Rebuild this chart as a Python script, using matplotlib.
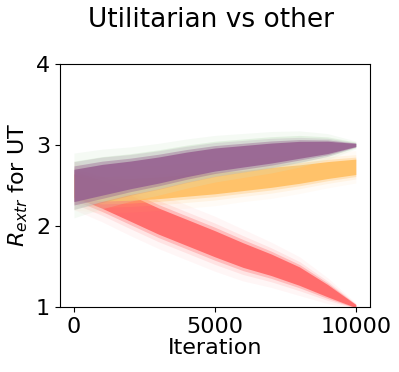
"""Utilitarian vs other: R_extr の推移をバンドで描く。"""

import matplotlib

matplotlib.use("Agg")
import matplotlib.pyplot as plt
import numpy as np

# 図から読み取った値 (iteration ごとの中心値と密な帯の半幅)
ITERATIONS = [0, 1000, 2000, 3000, 4000, 5000, 6000, 7000, 8000, 9000, 10000]

RED_CENTER = [2.50, 2.37, 2.22, 2.06, 1.92, 1.78, 1.64, 1.52, 1.38, 1.20, 1.01]
RED_HALF = [0.15, 0.16, 0.17, 0.17, 0.17, 0.17, 0.16, 0.14, 0.12, 0.08, 0.02]

ORANGE_CENTER = [2.48, 2.44, 2.45, 2.47, 2.50, 2.53, 2.56, 2.60, 2.64, 2.69, 2.73]
ORANGE_HALF = [0.14, 0.14, 0.14, 0.14, 0.14, 0.14, 0.13, 0.13, 0.12, 0.11, 0.10]

GREEN_CENTER = [2.50, 2.58, 2.64, 2.70, 2.77, 2.83, 2.87, 2.91, 2.95, 2.98, 3.00]
GREEN_HALF = [0.25, 0.23, 0.21, 0.20, 0.19, 0.18, 0.17, 0.16, 0.14, 0.10, 0.03]

PURPLE_CENTER = [2.50, 2.57, 2.63, 2.69, 2.76, 2.82, 2.86, 2.90, 2.94, 2.97, 3.00]
PURPLE_HALF = [0.21, 0.20, 0.18, 0.17, 0.16, 0.15, 0.14, 0.13, 0.11, 0.08, 0.02]

SERIES = [
    (RED_CENTER, RED_HALF, "#ff5f5f", [(2.0, 0.05), (1.5, 0.12), (1.2, 0.3), (0.95, 0.85)]),
    (ORANGE_CENTER, ORANGE_HALF, "#ffbd5c", [(2.0, 0.05), (1.5, 0.12), (1.2, 0.3), (0.95, 0.85)]),
    (GREEN_CENTER, GREEN_HALF, "#cfe6cc", [(1.6, 0.2), (1.2, 0.5)]),
    (PURPLE_CENTER, PURPLE_HALF, "#96608f", [(1.4, 0.15), (1.15, 0.4), (0.95, 0.85)]),
]

X_TICKS = [0, 5000, 10000]
Y_TICKS = [1, 2, 3, 4]


def main() -> None:
    fig = plt.figure(figsize=(3.99, 3.72), dpi=100)
    ax = fig.add_axes([0.150, 0.175, 0.777, 0.653])

    x = np.array(ITERATIONS)
    for center, half, color, layers in SERIES:
        c = np.array(center)
        h = np.array(half)
        for scale, alpha in layers:
            ax.fill_between(x, c - h * scale, c + h * scale,
                            color=color, alpha=alpha, linewidth=0)

    ax.set_ylim(1, 4)
    ax.set_xlim(-500, 10500)
    ax.set_xticks(X_TICKS)
    ax.set_yticks(Y_TICKS)
    ax.tick_params(labelsize=16)
    for spine in ax.spines.values():
        spine.set_color("black")

    ax.set_xlabel("Iteration", fontsize=16, labelpad=1)
    ax.set_ylabel("$R_{extr}$ for UT", fontsize=16)
    fig.text(0.529, 0.927, "Utilitarian vs other", fontsize=19,
             ha="center", va="baseline")

    fig.savefig("out.png", dpi=100)
    plt.close(fig)


if __name__ == "__main__":
    main()
